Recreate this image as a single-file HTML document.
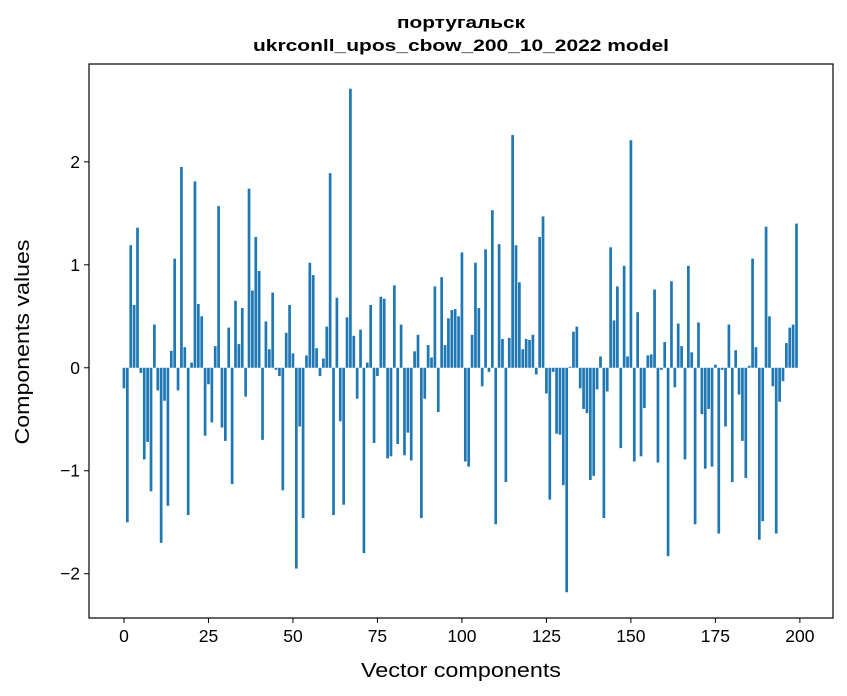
<!DOCTYPE html>
<html><head><meta charset="utf-8"><style>
body{margin:0;background:#fff;}
svg{display:block;font-family:"Liberation Sans","DejaVu Sans",sans-serif;}
</style></head><body>
<svg id="chart" width="847" height="696">
<rect width="847" height="696" fill="#fff"/>
<text x="461" y="28" text-anchor="middle" font-size="17" font-weight="bold" textLength="128" lengthAdjust="spacingAndGlyphs">португальск</text>
<text x="461" y="51" text-anchor="middle" font-size="17" font-weight="bold" textLength="416" lengthAdjust="spacingAndGlyphs">ukrconll_upos_cbow_200_10_2022 model</text>
<g id="bars"></g>
<rect x="89" y="64" width="744" height="554" fill="none" stroke="#000" stroke-width="1.2"/>
<g id="xticks"></g>
<g id="yticks"></g>
<text x="461" y="677" text-anchor="middle" font-size="20" textLength="200" lengthAdjust="spacingAndGlyphs">Vector components</text>
<text transform="translate(29,342) rotate(-90)" text-anchor="middle" font-size="20" textLength="205" lengthAdjust="spacingAndGlyphs">Components values</text>
</svg>
<script>
const values = [-0.20,-1.50,1.19,0.61,1.36,-0.05,-0.89,-0.72,-1.20,0.42,
-0.22,-1.70,-0.32,-1.34,0.165,1.06,-0.22,1.95,0.20,-1.43,
0.05,1.81,0.62,0.50,-0.66,-0.16,-0.53,0.21,1.57,-0.58,
-0.71,0.39,-1.13,0.65,0.23,0.58,-0.28,1.74,0.75,1.27,
0.94,-0.70,0.45,0.18,0.73,-0.02,-0.08,-1.19,0.34,0.61,
0.14,-1.95,-0.57,-1.46,0.12,1.02,0.90,0.19,-0.08,0.09,
0.40,1.89,-1.43,0.68,-0.52,-1.33,0.49,2.71,0.31,-0.30,
0.37,-1.80,0.05,0.61,-0.73,-0.08,0.69,0.67,-0.88,-0.86,
0.80,-0.74,0.42,-0.85,-0.63,-0.90,0.16,0.32,-1.46,-0.30,
0.22,0.10,0.79,-0.43,0.88,0.22,0.48,0.56,0.57,0.50,
1.12,-0.91,-0.96,0.32,1.02,0.58,-0.18,1.15,-0.04,1.53,
-1.52,1.20,0.28,-1.11,0.29,2.26,1.19,0.83,0.18,0.28,
0.27,0.32,-0.065,1.27,1.47,-0.25,-1.28,-0.04,-0.64,-0.65,
-1.14,-2.18,0.01,0.35,0.40,-0.20,-0.40,-0.44,-1.09,-1.05,
-0.21,0.11,-1.46,-0.23,1.17,0.46,0.79,-0.78,0.99,0.11,
2.21,-0.91,0.54,-0.86,-0.39,0.12,0.13,0.76,-0.92,-0.02,
0.25,-1.83,0.84,-0.19,0.43,0.21,-0.89,0.99,0.15,-1.52,
0.44,-0.45,-0.98,-0.40,-0.96,0.03,-1.61,-0.02,-0.57,0.42,
-1.11,0.17,-0.26,-0.71,-1.07,0.02,1.06,0.20,-1.67,-1.49,
1.37,0.50,-0.18,-1.61,-0.33,-0.13,0.24,0.39,0.42,1.40];
const xTickLabels = [0,25,50,75,100,125,150,175,200];
const yTickLabels = [-2,-1,0,1,2];
const yTickText = ["\u22122","\u22121","0","1","2"];

const NS="http://www.w3.org/2000/svg";
const X0=89,X1=833,Y0=64,Y1=618;
const xMin=-10.35,xMax=209.8,yMin=-2.43,yMax=2.95;
function xs(v){return X0+(v-xMin)/(xMax-xMin)*(X1-X0);}
function ys(v){return Y1-(v-yMin)/(yMax-yMin)*(Y1-Y0);}
const bars=document.getElementById('bars');
values.forEach((v,i)=>{
  const r=document.createElementNS(NS,'rect');
  const xl=xs(i-0.4), xr=xs(i+0.4);
  const y=Math.min(ys(v),ys(0)), h=Math.abs(ys(v)-ys(0));
  r.setAttribute('x',xl);r.setAttribute('width',xr-xl);
  r.setAttribute('y',y);r.setAttribute('height',h);
  r.setAttribute('fill','#1f77b4');
  
  
  bars.appendChild(r);
});
const xg=document.getElementById('xticks');
xTickLabels.forEach(t=>{
  const x=xs(t);
  const l=document.createElementNS(NS,'line');
  l.setAttribute('x1',x);l.setAttribute('x2',x);l.setAttribute('y1',Y1);l.setAttribute('y2',Y1+5);
  l.setAttribute('stroke','#000');
  
  
  xg.appendChild(l);
  const tx=document.createElementNS(NS,'text');
  tx.setAttribute('x',x);tx.setAttribute('y',Y1+24);tx.setAttribute('text-anchor','middle');tx.setAttribute('font-size','17.5');
  tx.textContent=t;
  
  
  xg.appendChild(tx);
});
const yg=document.getElementById('yticks');
yTickLabels.forEach((t,i)=>{
  const y=ys(t);
  const l=document.createElementNS(NS,'line');
  l.setAttribute('x1',X0-5);l.setAttribute('x2',X0);l.setAttribute('y1',y);l.setAttribute('y2',y);
  l.setAttribute('stroke','#000');
  
  
  yg.appendChild(l);
  const tx=document.createElementNS(NS,'text');
  tx.setAttribute('x',X0-9);tx.setAttribute('y',y+6);tx.setAttribute('text-anchor','end');tx.setAttribute('font-size','17.5');
  tx.textContent=yTickText[i];
  
  
  yg.appendChild(tx);
});
</script>
</body></html>
